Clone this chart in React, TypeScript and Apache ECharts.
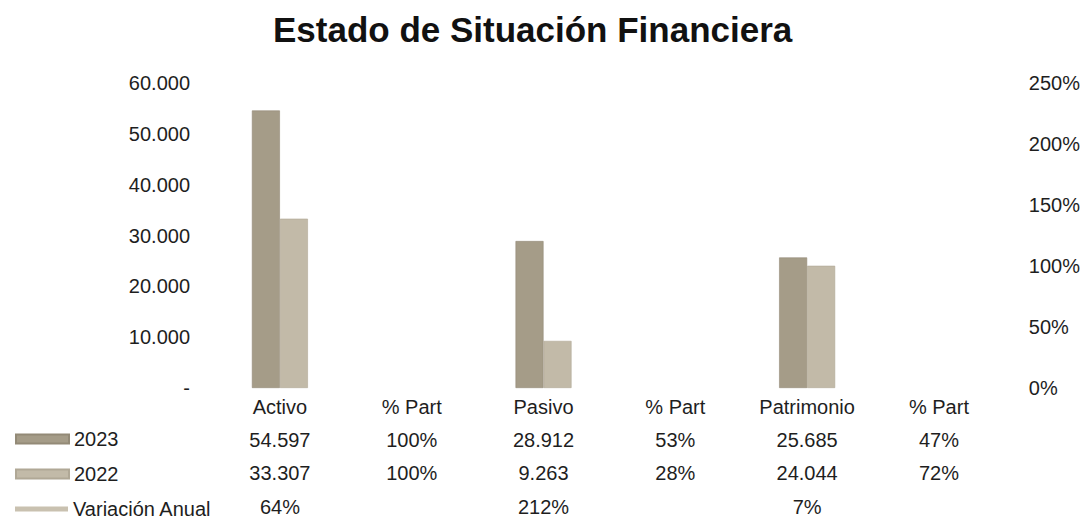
import React, { useEffect, useRef } from "react";
import * as echarts from "echarts";

const categories = ["Activo", "% Part", "Pasivo", "% Part", "Patrimonio", "% Part"];
const values2023 = [54597, null, 28912, null, 25685, null];
const values2022 = [33307, null, 9263, null, 24044, null];
const variacion = [64, null, 212, null, 7, null];
const row2023 = ["54.597", "100%", "28.912", "53%", "25.685", "47%"];
const row2022 = ["33.307", "100%", "9.263", "28%", "24.044", "72%"];
const rowVariacion = ["64%", "", "212%", "", "7%", ""];
const leftTicks = { min: 0, max: 60000, interval: 10000 };
const rightTicks = { min: 0, max: 250, interval: 50 };

const FONT = "'Liberation Sans', Arial, sans-serif";
const TEXT = "#1e1e1e";
const FS = 20;

function fmtThousands(v: number): string {
  if (v === 0) return "-";
  return String(v).replace(/\B(?=(\d{3})+(?!\d))/g, ".");
}

export default function App() {
  const ref = useRef<HTMLDivElement>(null);
  useEffect(() => {
    document.body.style.margin = "0";
    if (!ref.current) return;
    const chart = echarts.init(ref.current, null, { renderer: "svg" });
    const rowAxis = (rows: string[], offset: number) => ({
      type: "category",
      data: categories,
      position: "bottom",
      offset,
      gridIndex: 0,
      axisLine: { show: false },
      axisTick: { show: false },
      splitLine: { show: false },
      axisLabel: {
        interval: 0,
        margin: 9,
        fontFamily: FONT,
        fontSize: FS,
        color: TEXT,
        formatter: (_v: string, i: number) => rows[i],
      },
    });
    const legendBase = {
      orient: "vertical",
      left: 15,
      padding: 0,
      itemWidth: 53,
      itemHeight: 9,
      textStyle: { fontFamily: FONT, fontSize: FS, color: TEXT },
    };
    chart.setOption({
      animation: false,
      backgroundColor: "#ffffff",
      title: {
        text: "Estado de Situación Financiera",
        left: 268,
        top: 7,
        textStyle: { fontFamily: FONT, fontSize: 35, fontWeight: "bold", color: "#111" },
      },
      legend: [
        { ...legendBase, top: 429, data: [{ name: "2023", icon: "rect" }] },
        { ...legendBase, top: 464, data: [{ name: "2022", icon: "rect" }] },
        { ...legendBase, top: 499, itemHeight: 5, data: [{ name: "Variación Anual", icon: "rect" }] },
      ],
      grid: { left: 214, right: 77, top: 83, bottom: 139, containLabel: false },
      xAxis: [
        {
          type: "category",
          data: categories,
          position: "bottom",
          axisLine: { show: false },
          axisTick: { show: false },
          axisLabel: { interval: 0, margin: 9, fontFamily: FONT, fontSize: FS, color: TEXT },
        },
        rowAxis(row2023, 33),
        rowAxis(row2022, 66),
        rowAxis(rowVariacion, 100),
      ],
      yAxis: [
        {
          type: "value",
          ...leftTicks,
          position: "left",
          axisLine: { show: false },
          axisTick: { show: false },
          splitLine: { show: false },
          axisLabel: { margin: 24, fontFamily: FONT, fontSize: FS, color: TEXT, formatter: (v: number) => fmtThousands(v) },
        },
        {
          type: "value",
          ...rightTicks,
          position: "right",
          axisLine: { show: false },
          axisTick: { show: false },
          splitLine: { show: false },
          axisLabel: { margin: 24, fontFamily: FONT, fontSize: FS, color: TEXT, formatter: (v: number) => v + "%" },
        },
      ],
      series: [
        {
          name: "2023",
          type: "bar",
          xAxisIndex: 0,
          yAxisIndex: 0,
          data: values2023,
          barWidth: 28,
          barGap: "0%",
          itemStyle: { color: "#a59c88", borderColor: "#938a77", borderWidth: 0.6 },
        },
        {
          name: "2022",
          type: "bar",
          xAxisIndex: 0,
          yAxisIndex: 0,
          data: values2022,
          barWidth: 28,
          barGap: "0%",
          itemStyle: { color: "#c2baa8", borderColor: "#b0a896", borderWidth: 0.6 },
        },
        {
          name: "Variación Anual",
          type: "line",
          xAxisIndex: 0,
          yAxisIndex: 1,
          data: variacion,
          connectNulls: false,
          showSymbol: false,
          symbol: "none",
          lineStyle: { width: 5, color: "#c9c1b0" },
          itemStyle: { color: "#c9c1b0" },
        },
      ],
    });
    return () => chart.dispose();
  }, []);
  return <div ref={ref} style={{ width: 1083, height: 527 }} />;
}
